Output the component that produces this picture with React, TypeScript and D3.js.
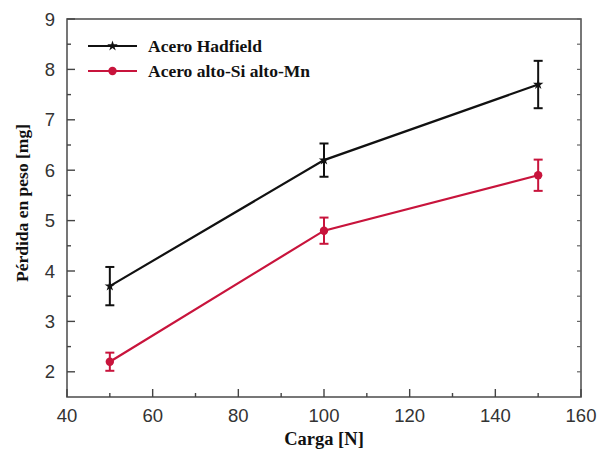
import React from "react";
import * as d3 from "d3";

const WIDTH = 599;
const HEIGHT = 453;
const MARGIN = { top: 19, right: 18, bottom: 56, left: 67 };

// carga [N]
const cargas = [50, 100, 150];
// Acero Hadfield
const hadfield = [3.7, 6.2, 7.7];
const hadfieldErr = [0.38, 0.33, 0.47];
// Acero alto-Si alto-Mn
const altoSiMn = [2.2, 4.8, 5.9];
const altoSiMnErr = [0.18, 0.26, 0.31];

const xTicks = [40, 60, 80, 100, 120, 140, 160];
const yTicks = [2, 3, 4, 5, 6, 7, 8, 9];

const series = [
  { name: "Acero Hadfield", values: hadfield, err: hadfieldErr, color: "#111111", marker: "star" },
  { name: "Acero alto-Si alto-Mn", values: altoSiMn, err: altoSiMnErr, color: "#c8143c", marker: "circle" },
];

const SERIF = "'Liberation Serif', 'Times New Roman', serif";
const SANS = "'Liberation Sans', Arial, sans-serif";

const App = () => {
  const boundsWidth = WIDTH - MARGIN.left - MARGIN.right;
  const boundsHeight = HEIGHT - MARGIN.top - MARGIN.bottom;

  const xScale = d3.scaleLinear().domain([40, 160]).range([0, boundsWidth]);
  const yScale = d3.scaleLinear().domain([1.5, 9]).range([boundsHeight, 0]);

  const line = d3
    .line<number>()
    .x((d, i) => xScale(cargas[i]))
    .y((d) => yScale(d));

  const star = d3.symbol().type(d3.symbolStar).size(34)() || "";

  const xMinor = d3.range(50, 160, 20);
  const yMinor = d3.range(2.5, 9, 1);

  const marker = (kind: string, color: string, x: number, y: number, key: string) =>
    kind === "star" ? (
      <path key={key} d={star} transform={`translate(${x},${y})`} fill={color} />
    ) : (
      <circle key={key} cx={x} cy={y} r={4.2} fill={color} />
    );

  return (
    <svg width={WIDTH} height={HEIGHT} style={{ position: "absolute", left: 0, top: 0, background: "#fff" }}>
      <g transform={`translate(${MARGIN.left},${MARGIN.top})`}>
        {/* frame */}
        <rect x={0} y={0} width={boundsWidth} height={boundsHeight} fill="none" stroke="#555" strokeWidth={1.6} />

        {/* x ticks (inward) */}
        {xTicks.map((t) => (
          <g key={"xt" + t}>
            <line x1={xScale(t)} x2={xScale(t)} y1={boundsHeight} y2={boundsHeight - 8} stroke="#444" strokeWidth={1.4} />
            <text x={xScale(t)} y={boundsHeight + 25} textAnchor="middle" fontFamily={SANS} fontSize={18.5} fill="#333">
              {t}
            </text>
          </g>
        ))}
        {xMinor.map((t) => (
          <line key={"xm" + t} x1={xScale(t)} x2={xScale(t)} y1={boundsHeight} y2={boundsHeight - 4} stroke="#444" strokeWidth={1.4} />
        ))}

        {/* y ticks (inward, left and right) */}
        {yTicks.map((t) => (
          <g key={"yt" + t}>
            <line x1={0} x2={8} y1={yScale(t)} y2={yScale(t)} stroke="#444" strokeWidth={1.4} />
            <line x1={boundsWidth} x2={boundsWidth - 4} y1={yScale(t)} y2={yScale(t)} stroke="#666" strokeWidth={1.2} />
            <text x={-12} y={yScale(t)} dy="0.36em" textAnchor="end" fontFamily={SANS} fontSize={18.5} fill="#333">
              {t}
            </text>
          </g>
        ))}
        {yMinor.map((t) => (
          <g key={"ym" + t}>
            <line x1={0} x2={4} y1={yScale(t)} y2={yScale(t)} stroke="#444" strokeWidth={1.4} />
            <line x1={boundsWidth} x2={boundsWidth - 4} y1={yScale(t)} y2={yScale(t)} stroke="#666" strokeWidth={1.2} />
          </g>
        ))}

        {/* series */}
        {series.map((s) => (
          <g key={s.name}>
            <path d={line(s.values) || ""} fill="none" stroke={s.color} strokeWidth={2.2} />
            {s.values.map((v, i) => {
              const x = xScale(cargas[i]);
              const y0 = yScale(v - s.err[i]);
              const y1 = yScale(v + s.err[i]);
              return (
                <g key={i}>
                  <line x1={x} x2={x} y1={y0} y2={y1} stroke={s.color} strokeWidth={2} />
                  <line x1={x - 4.5} x2={x + 4.5} y1={y0} y2={y0} stroke={s.color} strokeWidth={2} />
                  <line x1={x - 4.5} x2={x + 4.5} y1={y1} y2={y1} stroke={s.color} strokeWidth={2} />
                  {marker(s.marker, s.color, x, yScale(v), "m" + i)}
                </g>
              );
            })}
          </g>
        ))}

        {/* legend */}
        {series.map((s, i) => (
          <g key={"lg" + s.name} transform={`translate(21,${27 + i * 25})`}>
            <line x1={0} x2={49} y1={0} y2={0} stroke={s.color} strokeWidth={2.2} />
            {marker(s.marker, s.color, 24.5, 0, "lm")}
            <text x={60} y={0} dy="0.35em" fontFamily={SERIF} fontWeight="bold" fontSize={17.5} fill="#111">
              {s.name}
            </text>
          </g>
        ))}
      </g>

      {/* axis titles */}
      <text x={MARGIN.left + boundsWidth / 2} y={445} textAnchor="middle" fontFamily={SERIF} fontWeight="bold" fontSize={18.5} fill="#111">
        Carga [N]
      </text>
      <text
        transform={`translate(28,${MARGIN.top + boundsHeight / 2 - 5}) rotate(-90)`}
        textAnchor="middle"
        fontFamily={SERIF}
        fontWeight="bold"
        fontSize={17.5}
        fill="#111"
      >
        Pérdida en peso [mg]
      </text>
    </svg>
  );
};

export default App;
